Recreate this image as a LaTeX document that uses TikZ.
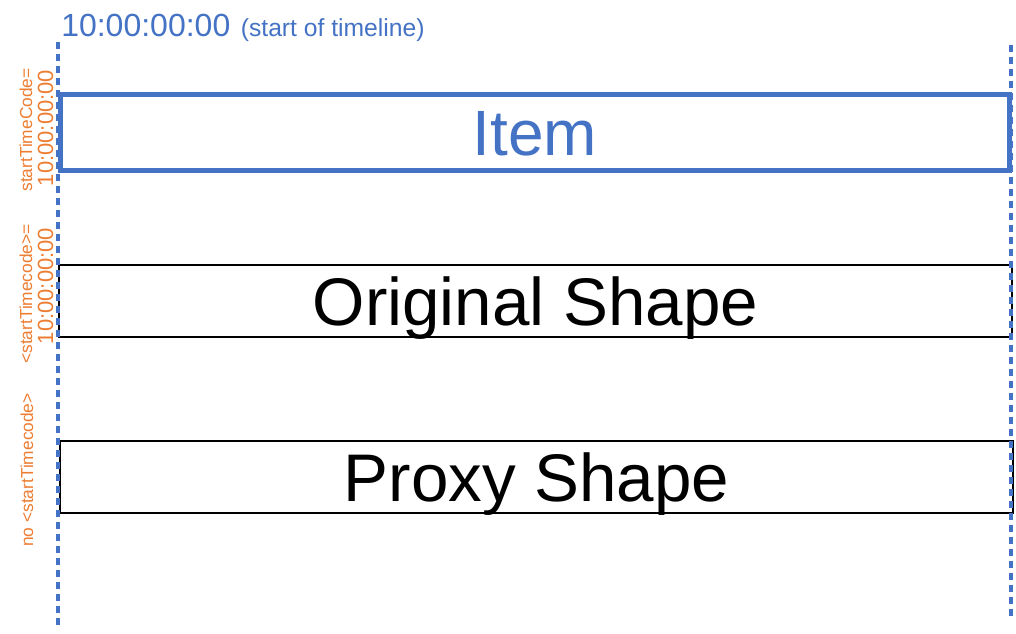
\documentclass[tikz,border=0pt]{standalone}
\usepackage{fontspec}
\setmainfont{Liberation Sans}
\usetikzlibrary{positioning}
\definecolor{itemblue}{HTML}{4472C4}
\definecolor{tcorange}{HTML}{ED7D31}

\begin{document}
\begin{tikzpicture}[x=0.75pt,y=-0.75pt,
    shapebox/.style={draw,inner sep=0pt,line width=1.5pt,minimum width=714.75pt,minimum height=54pt,font=\fontsize{50.5}{60}\selectfont,text height=36.2pt,text depth=0pt},
    timeline/.style={itemblue,line width=2.6pt,dash pattern=on 5.25pt off 3.75pt},
    tclabel/.style={tcorange,rotate=90,anchor=base,inner sep=0pt,font=\fontsize{13}{15}\selectfont},
    tcvalue/.style={tclabel,font=\fontsize{16.5}{19}\selectfont}]
    \useasboundingbox (0,0) rectangle (1016,634);

    \node[shapebox,itemblue,line width=3.75pt,minimum width=711.75pt,minimum height=57pt,font=\fontsize{48}{58}\selectfont,text height=34.4pt] (item) at (535,132.5){Item};
    \node[shapebox] (orig) at (535.5,301){Original Shape};
    \node[shapebox] (proxy) at (536.5,477){Proxy Shape};

    \coordinate (tlstart) at (58,42);
    \coordinate (tlstartend) at (58,625);
    \coordinate (tlend) at (1011,45);
    \coordinate (tlendend) at (1011,620);
    \draw[timeline](tlstart)--(tlstartend);
    \draw[timeline](tlend)--(tlendend);

    \node[anchor=base west,inner sep=0pt,itemblue,font=\fontsize{24}{28}\selectfont] (tcstart) at (61,37){10:00:00:00};
    \node[base right=7.5pt of tcstart,inner sep=0pt,itemblue,font=\fontsize{18.5}{22}\selectfont] (tcnote){(start of timeline)};

    \node[tclabel] (itemkey) at (32,130){startTimeCode=};
    \node[tcvalue] (itemval) at (53,128){10:00:00:00};
    \node[tclabel] (origkey) at (32,294){<startTimecode>=};
    \node[tcvalue] (origval) at (53,286){10:00:00:00};
    \node[tclabel] (proxykey) at (33,470){no <startTimecode>};
\end{tikzpicture}
\end{document}
